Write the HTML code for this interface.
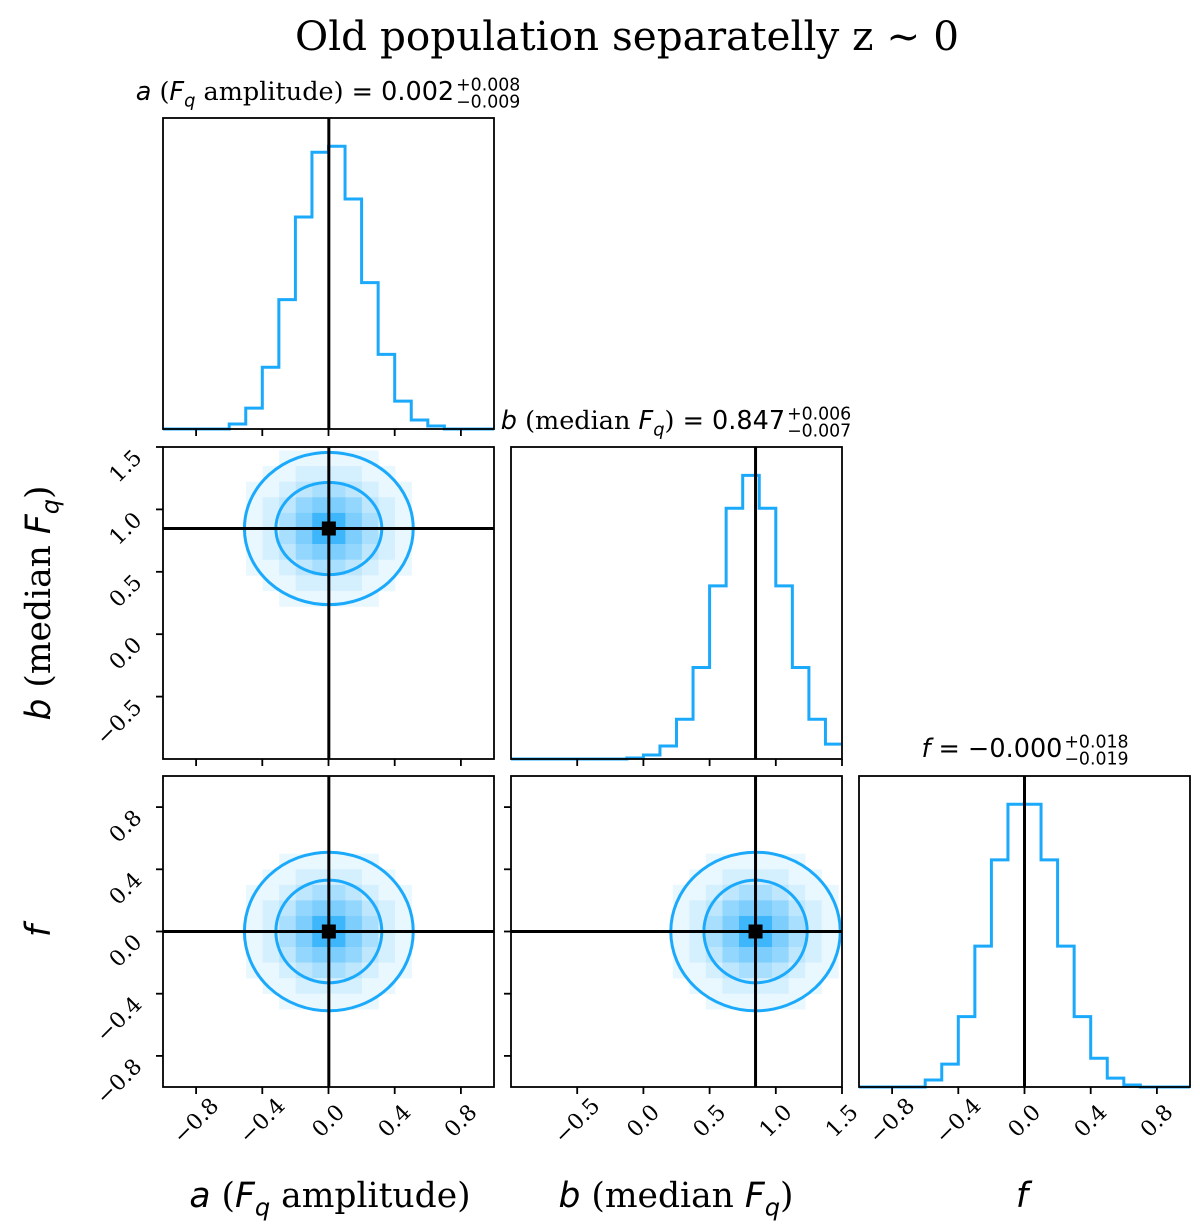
<!DOCTYPE html>
<html><head><meta charset="utf-8">
<style>
html,body{margin:0;padding:0;background:#fff;}
svg{display:block;}
.serif{font-family:"DejaVu Serif","Liberation Serif",serif;}
.sans{font-family:"DejaVu Sans","Liberation Sans",sans-serif;}
</style></head>
<body>
<svg id="fig" width="1200" height="1227" viewBox="0 0 1200 1227" xmlns="http://www.w3.org/2000/svg">
<text x="627" y="50" text-anchor="middle" class="serif" font-size="40.5" fill="#000">Old population separatelly z ~ 0</text>
<g id="marks"></g>
</svg>
<script>
// ---- data ----
const histA = [0,0,0,0,5,21,62,130,213,278,284,231,147,75,28,9,3,0,0,0];
const histB = [0,0,0,0,0,0,0,1,4,13,40,92,174,252,285,252,174,92,40,15];
const histF = [0,0,0,0,7,23,71,142,229,285,285,229,142,71,29,9,2,0,0,0];
const rangeA = [-1,1];
const rangeB = [-1,1.5];
const rangeF = [-1,1];
const medA = 0.002, medB = 0.847, medF = 0.0;
const ticksA = [-0.8,-0.4,0.0,0.4,0.8];
const ticksB = [-0.5,0.0,0.5,1.0,1.5];
const ticksF = [-0.8,-0.4,0.0,0.4,0.8];
const tickLabelsA = ["\u22120.8","\u22120.4","0.0","0.4","0.8"];
const tickLabelsB = ["\u22120.5","0.0","0.5","1.0","1.5"];
const tickLabelsF = ["\u22120.8","\u22120.4","0.0","0.4","0.8"];
// contour radii (data units) [inner, outer]
const contAB_x = [0.32,0.51], contAB_y = [0.37,0.61];
const contAF_x = [0.32,0.51], contAF_y = [0.33,0.51];
const contBF_x = [0.39,0.64], contBF_y = [0.33,0.51];
// density levels 0..9
const dens = [
[0,0,1,1,1,1,1,1,0,0],
[0,1,1,2,2,2,2,1,1,0],
[1,1,2,3,4,4,3,2,1,1],
[1,2,3,5,6,6,5,3,2,1],
[1,2,4,6,9,9,6,4,2,1],
[1,2,4,6,9,9,6,4,2,1],
[1,2,3,5,6,6,5,3,2,1],
[1,1,2,3,4,4,3,2,1,1],
[0,1,1,2,2,2,2,1,1,0],
[0,0,1,1,1,1,1,1,0,0]];

const NS="http://www.w3.org/2000/svg";
const G=document.getElementById('marks');
const BLUE="#1ba9fc";
const LW=3;
function mk(tag,attrs,parent){const e=document.createElementNS(NS,tag);for(const k in attrs)e.setAttribute(k,attrs[k]);(parent||G).appendChild(e);return e;}

function panel(x0,y0,w,h,name){
  const g=mk('g',{});
  
  
  return {x0,y0,w,h,g};
}
function sx(p,r,v){return p.x0+(v-r[0])/(r[1]-r[0])*p.w;}
function sy(p,r,v){return p.y0+p.h-(v-r[0])/(r[1]-r[0])*p.h;}
function frame(p){
  const r=mk('rect',{x:p.x0,y:p.y0,width:p.w,height:p.h,fill:'none',stroke:'#000','stroke-width':1.8},p.g);
  
  
}
function xticks(p,r,ticks,labels){
  ticks.forEach((t,i)=>{
    const x=sx(p,r,t);
    const l=mk('line',{x1:x,x2:x,y1:p.y0+p.h,y2:p.y0+p.h+7,stroke:'#000','stroke-width':1.8},p.g);
    
    
    if(labels){
      const cx=x, cy=p.y0+p.h+34;
      const tx=mk('text',{x:cx,y:cy+7,'text-anchor':'middle',class:'serif','font-size':22,transform:`rotate(-45 ${cx} ${cy})`},p.g);
      tx.textContent=labels[i];
      
      
    }
  });
}
function yticks(p,r,ticks,labels){
  ticks.forEach((t,i)=>{
    const y=sy(p,r,t);
    const l=mk('line',{x1:p.x0-7,x2:p.x0,y1:y,y2:y,stroke:'#000','stroke-width':1.8},p.g);
    
    
    if(labels){
      const ex=p.x0-20, ey=y+12;
      const tx=mk('text',{x:ex,y:ey,'text-anchor':'end',class:'serif','font-size':22,transform:`rotate(-45 ${ex} ${ey})`},p.g);
      tx.textContent=labels[i];
      
      
    }
  });
}
function hist(p,r,counts,med){
  const n=counts.length, mx=Math.max(...counts)*1.1;
  const bw=(r[1]-r[0])/n;
  let d='';
  counts.forEach((c,i)=>{
    const xa=sx(p,r,r[0]+i*bw), xb=sx(p,r,r[0]+(i+1)*bw);
    const y=p.y0+p.h-c/mx*p.h;
    d+=(i===0?`M${xa},${y}`:`L${xa},${y}`)+`L${xb},${y}`;
  });
  const path=mk('path',{d,fill:'none',stroke:BLUE,'stroke-width':LW},p.g);
  
  
  const x=sx(p,r,med);
  const l=mk('line',{x1:x,x2:x,y1:p.y0,y2:p.y0+p.h,stroke:'#000','stroke-width':LW},p.g);
  
  
}
function mix(t){const c=[0x1b,0xa9,0xfc];return 'rgb('+c.map(v=>Math.round(255+(v-255)*t)).join(',')+')';}
function density(p,rx,ry,mx,my,binx,biny,cx,cy){
  const n=dens.length;
  dens.forEach((row,j)=>row.forEach((lv,i)=>{
    if(!lv)return;
    const x0=sx(p,rx,mx+(i-n/2)*binx), x1=sx(p,rx,mx+(i-n/2+1)*binx);
    const y0=sy(p,ry,my-(j-n/2)*biny), y1=sy(p,ry,my-(j-n/2+1)*biny);
    const c=mk('rect',{x:x0,y:y0,width:x1-x0+0.3,height:y1-y0+0.3,fill:mix(lv/9*0.85)},p.g);
    
    
  }));
  cx.forEach((r,k)=>{
    const e=mk('ellipse',{cx:sx(p,rx,mx),cy:sy(p,ry,my),rx:(sx(p,rx,mx+r)-sx(p,rx,mx)),ry:(sy(p,ry,my)-sy(p,ry,my+cy[k])),fill:'none',stroke:BLUE,'stroke-width':LW},p.g);
    
    
  });
  const X=sx(p,rx,mx), Y=sy(p,ry,my);
  const lv=mk('line',{x1:X,x2:X,y1:p.y0,y2:p.y0+p.h,stroke:'#000','stroke-width':LW},p.g);
  
  
  const lh=mk('line',{x1:p.x0,x2:p.x0+p.w,y1:Y,y2:Y,stroke:'#000','stroke-width':LW},p.g);
  
  
  const s=mk('rect',{x:X-7,y:Y-7,width:14,height:14,fill:'#000'},p.g);
  
  
}

const Paa=panel(163,118,331,311,'hist-a');
const Pab=panel(163,447,331,312,'density-a-b');
const Pbb=panel(511,447,331,312,'hist-b');
const Paf=panel(163,776,331,311,'density-a-f');
const Pbf=panel(511,776,331,311,'density-b-f');
const Pff=panel(859,776,331,311,'hist-f');

hist(Paa,rangeA,histA,medA);
hist(Pbb,rangeB,histB,medB);
hist(Pff,rangeF,histF,medF);
density(Pab,rangeA,rangeB,medA,medB,0.1,0.125,contAB_x,contAB_y);
density(Paf,rangeA,rangeF,medA,medF,0.1,0.1,contAF_x,contAF_y);
density(Pbf,rangeB,rangeF,medB,medF,0.125,0.1,contBF_x,contBF_y);
[Paa,Pab,Pbb,Paf,Pbf,Pff].forEach(frame);

xticks(Paa,rangeA,ticksA,null);
xticks(Pab,rangeA,ticksA,null);
xticks(Paf,rangeA,ticksA,tickLabelsA);
xticks(Pbb,rangeB,ticksB,null);
xticks(Pbf,rangeB,ticksB,tickLabelsB);
xticks(Pff,rangeF,ticksF,tickLabelsF);
yticks(Pab,rangeB,ticksB,tickLabelsB);
yticks(Paf,rangeF,ticksF,tickLabelsF);
yticks(Pbf,rangeF,ticksF,null);

function rich(x,y,size,parts,anchor,name,rot,scripts){
  const g=mk('g',{});
  
  
  const t=mk('text',{x:0,y:0,'font-size':size},g);
  parts.forEach(pt=>{
    const s=mk('tspan',{class:pt[1]},t);
    if(pt[2])s.setAttribute('font-style','italic');
    if(pt[3]){s.setAttribute('font-size',size*0.7);s.setAttribute('dy',size*0.25);}
    else if(pt[4]){s.setAttribute('dy',-size*0.25);}
    s.textContent=pt[0];
  });
  let w=t.getComputedTextLength();
  let sw=0;
  if(scripts){
    const a=mk('text',{x:w+2,y:-size*0.38,'font-size':size*0.68,class:'sans'},g);a.textContent=scripts[0];
    const b=mk('text',{x:w+2,y:size*0.3,'font-size':size*0.68,class:'sans'},g);b.textContent=scripts[1];
    sw=Math.max(a.getComputedTextLength(),b.getComputedTextLength())+2;
  }
  const total=w+sw;
  const off=anchor==='middle'?-total/2:0;
  g.setAttribute('transform',`translate(${x},${y}) rotate(${rot||0}) translate(${off},0)`);
}
rich(328,100,25.5,[["a","sans",1],[" (","serif"],["F","sans",1],["q","sans",1,1],[" amplitude) ","serif",0,0,1],["= 0.002","sans"]],'middle','title-a',0,["+0.008","\u22120.009"]);
rich(676,429,25.5,[["b","sans",1],[" (median ","serif"],["F","sans",1],["q","sans",1,1],[") ","serif",0,0,1],["= 0.847","sans"]],'middle','title-b',0,["+0.006","\u22120.007"]);
rich(1025,757,25.5,[["f","sans",1],[" = \u22120.000","sans"]],'middle','title-f',0,["+0.018","\u22120.019"]);

rich(330,1207,34.5,[["a","sans",1],[" (","serif"],["F","sans",1],["q","sans",1,1],[" amplitude)","serif",0,0,1]],'middle','x-axis-title-a',0);
rich(676,1207,34.5,[["b","sans",1],[" (median ","serif"],["F","sans",1],["q","sans",1,1],[")","serif",0,0,1]],'middle','x-axis-title-b',0);
rich(1022,1207,34.5,[["f","sans",1]],'middle','x-axis-title-f',0);
rich(50,603,34.5,[["b","sans",1],[" (median ","serif"],["F","sans",1],["q","sans",1,1],[")","serif",0,0,1]],'middle','y-axis-title-b',-90);
rich(50,931,34.5,[["f","sans",1]],'middle','y-axis-title-f',-90);
</script>
</body></html>
